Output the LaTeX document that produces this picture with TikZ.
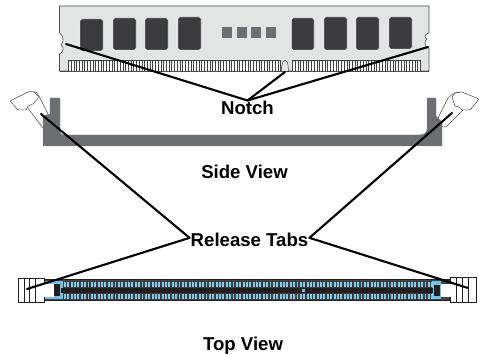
\documentclass[tikz,border=0pt]{standalone}
\usepackage{fontspec}
\setmainfont{Liberation Sans}
\definecolor{modfill}{HTML}{E3E4E4}
\definecolor{chipc}{HTML}{3C3C3E}
\definecolor{sockc}{HTML}{6D6E71}
\definecolor{slotblue}{HTML}{6FC3E8}
\definecolor{darkc}{HTML}{231F20}
\tikzset{
  lbl/.style={font=\bfseries\fontsize{18.6}{22}\selectfont,inner sep=0pt,text=black,anchor=base},
  lead/.style={draw=black,line width=2.1pt,line cap=round,line join=round},
  chipbox/.style={fill=chipc,draw=white,line width=.4pt,rounded corners=1.5pt},
  latchline/.style={draw=darkc!80,line width=.5pt,fill=white,line join=round,rounded corners=.8pt},
}
\begin{document}
\begin{tikzpicture}[x=1pt,y=-1pt]
\useasboundingbox (0,0) rectangle (479,355);
% memory module
\draw[fill=modfill,draw=black!70,line width=.6pt]
  (59.5,6) -- (429,6) -- (429,33) .. controls (424,34) and (424,38) .. (427,39)
  .. controls (424,41) and (424,47) .. (429,48) -- (429,71) -- (59.5,71) -- (59.5,54)
  .. controls (64,52) and (64,47) .. (61,45) .. controls (64,42) and (64,36) .. (59.5,33) -- cycle;
\foreach \a/\b/\c/\d in {80/19/103/51,113/18/136/50,145/18/168/50,178/17/201/50,
  291.5/18/314/50,324/17/347/50,356/17/379/50,389/17/412/49}
  \path[chipbox] (\a,\b) rectangle (\c,\d);
\foreach \a in {222,237,251,266}
  \fill[sockc] (\a,27) rectangle +(10,11);
\fill[white] (68,60) rectangle (281,71);
\fill[white] (292,60) rectangle (420,71);
\foreach \i in {0,...,78} \draw[black!75,line width=.8pt] ({68.5+\i*2.72},60.5) -- ++(0,10.5);
\foreach \i in {0,...,47} \draw[black!75,line width=.8pt] ({292.5+\i*2.72},60.5) -- ++(0,10.5);
\draw[black!75,line width=.6pt] (68,60.5) -- (281,60.5) (292,60.5) -- (420,60.5);
\fill[modfill] (282,71.5) -- (282,65) .. controls (282,59) and (288,59) .. (288,65) -- (288,71.5) -- cycle;
\draw[black!75,line width=.5pt] (281,71) -- (282,65) .. controls (282,59) and (288,59) .. (288,65) -- (288.5,71);
\draw[black!70,line width=.6pt] (59.5,71) -- (429,71);
% side view socket latches
\draw[latchline] (28,92) -- (36,92) -- (39,96) -- (49,116) -- (43,128) -- (27,107) -- cycle;
\draw[latchline] (10,101) -- (28,92) -- (34,92) -- (39,97) -- (33,104) -- (28,106) -- (26,110) -- (18,110) -- cycle;
\draw[latchline] (438,118) -- (448,98) -- (454,93) -- (461,92) -- (465,108) -- (446,127) -- (442,127) -- cycle;
\draw[latchline] (479,99) -- (462,92) -- (455,93) -- (452,97) -- (455,106) -- (459,107) -- (462,110) -- (470,110) -- cycle;
% side view socket
\fill[sockc,draw=black!45,line width=.4pt]
  (50,98) -- (60,98) -- (60,131) .. controls (60,134) and (62,135) .. (64,135)
  -- (418,135) .. controls (424,135) and (427,133) .. (427,129)
  -- (427,98) -- (436,98) -- (436,116) -- (442,122) -- (442,146) -- (43,146) -- (43,116) -- (50,114) -- cycle;
% top view socket
\fill[sockc!60!black,draw=darkc,line width=.6pt] (44,279.5) rectangle (455,300.5);
\fill[slotblue] (44,281) rectangle (441,299);
\fill[white] (41,284) rectangle (54,297);
\fill[white] (441,284) rectangle (452,297);
\draw[darkc,line width=.6pt] (40,284) -- (44,284) (40,297) -- (44,297) (44,284) -- (44,279.5);
\fill[darkc] (54,284) rectangle (60,295.5);
\fill[darkc] (434,285) rectangle (440,296);
\fill[darkc] (61,287.8) rectangle (433,293.2);
\fill[sockc!55!black] (63,281) rectangle (432,287.8);
\fill[sockc!55!black] (63,293.2) rectangle (432,299.8);
\foreach \i in {0,...,109}{
  \fill[slotblue!85!white] ({64+\i*3.37},282) rectangle +(1.9,5);
  \fill[slotblue!85!white] ({64+\i*3.37},294) rectangle +(1.9,5);
}
\fill[slotblue,draw=darkc,line width=.2pt] (301,288.2) rectangle +(3.6,3.6);
% tabs
\draw[draw=darkc,fill=white,line width=.7pt] (18,278.5) rectangle (44.5,302);
\foreach \a in {24,29.5,35} \draw[darkc,line width=.6pt] (\a,278.5) -- (\a,302);
\draw[draw=darkc,fill=white,line width=.7pt] (450,277.5) rectangle (476,302);
\foreach \a in {456,462,468} \draw[darkc,line width=.6pt] (\a,277.5) -- (\a,302);
\fill[white] (38,284.5) rectangle (44.5,296.5);
\fill[white] (450,284.5) rectangle (455,296.5);
% labels
\node[lbl] (notch) at (247.5,115) {Notch};
\node[lbl] (side) at (244.5,179) {Side View};
\node[lbl] (tabs) at (249.5,247) {Release Tabs};
\node[lbl] (top) at (243,350) {Top View};
% connector ends
\coordinate (nhub) at (247.5,100.5);
\coordinate (nl) at (66,44);
\coordinate (nm) at (285,72);
\coordinate (nr) at (428,47);
\coordinate (tl) at ([shift={(-1,-2.5)}]tabs.west);
\coordinate (tr) at ([shift={(1,-2.5)}]tabs.east);
\coordinate (a) at (41,114);
\coordinate (b) at (452,113);
\coordinate (c) at (27,289);
\coordinate (d) at (468,288);
\draw[lead] (nl) -- (nhub);
\draw[lead] (nm) -- (nhub);
\draw[lead] (nr) -- (nhub);
\draw[lead] (a) -- (tl);
\draw[lead] (c) -- (tl);
\draw[lead] (b) -- (tr);
\draw[lead] (d) -- (tr);
\end{tikzpicture}
\end{document}
